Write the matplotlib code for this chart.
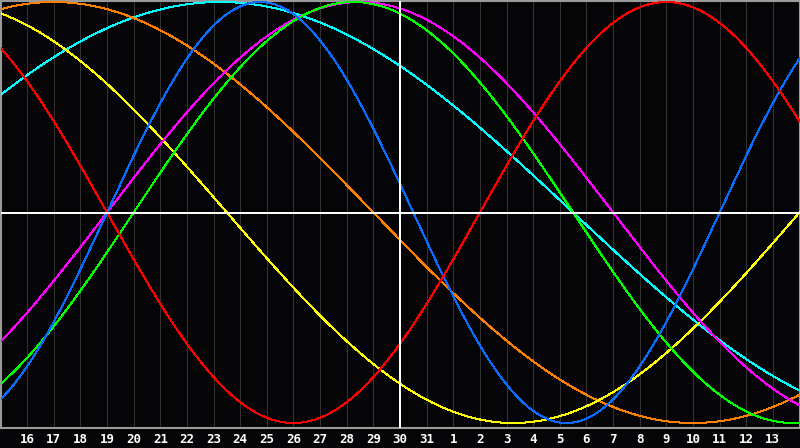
import numpy as np
import matplotlib
matplotlib.use('Agg')
import matplotlib.pyplot as plt

# 30-day window, day labels for grid lines 1..29 (index 15 = today)
day_labels = [str(d) for d in list(range(16, 32)) + list(range(1, 14))]
today_index = 15
n_days = 30

# biorhythm cycles: period (days) and index where the curve crosses zero going up
cycle_names = ['physical', 'emotional', 'intellectual', 'intuitive',
               'aesthetic', 'awareness', 'spiritual']
periods = [23, 28, 33, 38, 43, 48, 53]
zero_up = [4, 18, 5, 4, 30, -10, -5]
colors = ['#0a6cff', '#ff0000', '#00ff00', '#ff00ff', '#ffff00', '#ff8000', '#00ffff']

bg = '#050508'
px = 0.72  # one pixel in points at dpi 100
fig = plt.figure(figsize=(8, 4.48), dpi=100, facecolor=bg)
ax = fig.add_axes([0.5 / 800, 20 / 448, 799 / 800, 427.5 / 448])
ax.set_facecolor(bg)

# curve extremes sit 2px and 423px from the top of the image
amp_px = 210.5
center_px = 212.5
ax.set_xlim(0, n_days)
ax.set_ylim(-(428 - center_px) / amp_px, (center_px - 0.5) / amp_px)

# day grid
for i in range(1, n_days):
    ax.axvline(i, color='#333333', lw=px, antialiased=False, zorder=1)

x = np.linspace(0, n_days, 1601)
draw_order = [6, 5, 4, 3, 2, 0, 1]
for k in draw_order:
    y = np.sin(2 * np.pi * (x - zero_up[k]) / periods[k])
    ax.plot(x, y, color=colors[k], lw=px, antialiased=False, zorder=3)

ax.axhline(0, color='white', lw=1.5 * px, antialiased=False, zorder=4)
ax.axvline(today_index, color='white', lw=1.5 * px, antialiased=False, zorder=4)

for s in ax.spines.values():
    s.set_color('#9a9a9a')
    s.set_linewidth(1.5)

ax.set_yticks([])
ax.set_xticks(range(1, n_days))
ax.set_xticklabels(day_labels, color='white', fontsize=9, fontweight='bold',
                   fontfamily='DejaVu Sans Mono')
ax.tick_params(axis='x', length=0, pad=3.5)

fig.savefig('out.png', dpi=100, facecolor=bg)
